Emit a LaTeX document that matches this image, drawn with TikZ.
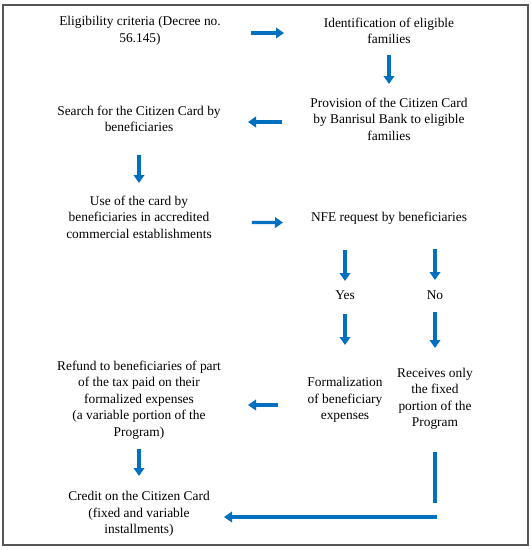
\documentclass[tikz,border=0pt]{standalone}
\usepackage{fontspec}
\setmainfont{LiberationSerif}[Extension=.ttf, UprightFont=*-Regular, BoldFont=*-Bold, ItalicFont=*-Italic]
\usetikzlibrary{arrows.meta}
\definecolor{arrowblue}{RGB}{0,112,192}
\definecolor{framegray}{RGB}{85,85,85}
\begin{document}
\begin{tikzpicture}[x=1pt, y=-1pt,
    txt/.style={align=center, inner sep=0pt, font={\fontsize{13.4}{16.5}\selectfont}},
    bar/.style={draw=arrowblue, line width=3.3pt},
    arr/.style={bar, -{Triangle[length=8pt, width=10.5pt]}}]
    \useasboundingbox (0,0) rectangle (531,550);
    \draw[framegray, line width=1.3pt] (3,5) rectangle (528,545);
    \node[txt] (elig) at (140, 31) {Eligibility criteria (Decree no.\\56.145)};
    \node[txt] (ident) at (389, 31) {Identification of eligible\\families};
    \node[txt] (prov) at (389, 119) {Provision of the Citizen Card\\by Banrisul Bank to eligible\\families};
    \node[txt] (search) at (139, 119) {Search for the Citizen Card by\\beneficiaries};
    \node[txt] (use) at (139, 217) {Use of the card by\\beneficiaries in accredited\\commercial establishments};
    \node[txt] (nfe) at (389, 218) {NFE request by beneficiaries};
    \node[txt] (yes) at (345, 295) {Yes}; \node[txt] (no) at (435, 295) {No};
    \node[txt] (form) at (345, 400) {Formalization\\of beneficiary\\expenses};
    \node[txt] (recv) at (435, 399) {Receives only\\the fixed\\portion of the\\Program};
    \node[txt] (refund) at (139, 400) {Refund to beneficiaries of part\\of the tax paid on their\\formalized expenses\\(a variable portion of the\\Program)};
    \node[txt] (credit) at (139, 514) {Credit on the Citizen Card\\(fixed and variable\\installments)};
    \coordinate (turn) at (437, 517);
    \draw[arr, shorten <=111pt, shorten >=105pt] ([yshift=-2pt]elig.center) -- ([yshift=-2pt]ident.center);
    \draw[arr, shorten <=24pt, shorten >=35pt] (ident.center) -- (prov.center);
    \draw[arr, shorten <=107pt, shorten >=109pt] ([yshift=-3pt]prov.center) -- ([yshift=-3pt]search.center);
    \draw[arr, shorten <=36pt, shorten >=34pt] (search.center) -- (use.center);
    \draw[arr, shorten <=113pt, shorten >=106pt] ([yshift=-5pt]use.center) -- ([yshift=-5pt]nfe.center);
    \draw[arr, shorten <=32pt, shorten >=14pt] (yes |- nfe.center) -- (yes.center);
    \draw[arr, shorten <=31pt, shorten >=15pt] (no |- nfe.center) -- (no.center);
    \draw[arr, shorten <=19pt, shorten >=55pt] (yes.center) -- (form.center);
    \draw[arr, shorten <=17pt, shorten >=51pt] (no.center) -- (recv.center);
    \draw[arr, shorten <=67pt, shorten >=109pt] ([yshift=-5pt]form.center) -- ([yshift=-5pt]refund.center);
    \draw[arr, shorten <=49pt, shorten >=38pt] (refund.center) -- (credit.center);
    \draw[bar, shorten <=53pt, shorten >=14pt] (recv.center) -- (recv |- turn);
    \draw[arr, shorten >=85pt] (turn) -- (turn -| credit.center);
\end{tikzpicture}
\end{document}
